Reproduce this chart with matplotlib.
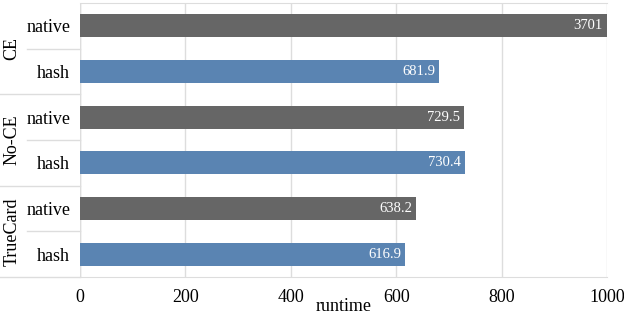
import matplotlib.pyplot as plt
import matplotlib.transforms as mtransforms

groups = ['CE', 'No-CE', 'TrueCard']
methods = ['native', 'hash']
runtime = [3701, 681.9, 729.5, 730.4, 638.2, 616.9]
value_labels = ['3701', '681.9', '729.5', '730.4', '638.2', '616.9']
xticks = [0, 200, 400, 600, 800, 1000]

colors = {'native': '#666666', 'hash': '#5a84b2'}
grid_col = '#dddddd'

plt.rcParams['font.family'] = ['Liberation Serif', 'DejaVu Serif']

fig = plt.figure(figsize=(6.24, 3.17), dpi=100)
ax = fig.add_axes([80 / 624, 1 - 277 / 317, 527 / 624, 274 / 317])

labels = []
cols = []
for g in groups:
    for m in methods:
        labels.append(m)
        cols.append(colors[m])

ypos = list(range(len(runtime)))
ax.barh(ypos, [min(v, 1000) for v in runtime], height=0.5, color=cols, zorder=2)

for y, v, t in zip(ypos, runtime, value_labels):
    ax.text(min(v, 1000) - 8, y, t, color='white', ha='right', va='center',
            fontsize=10.5, zorder=3)

ax.set_xlim(0, 1000)
ax.set_ylim(len(runtime) - 0.5, -0.5)
ax.set_xticks(xticks)
ax.set_xticklabels([str(x) for x in xticks], fontsize=13)
ax.set_yticks(ypos)
ax.set_yticklabels(labels, fontsize=13)
ax.tick_params(axis='both', length=0)
ax.tick_params(axis='y', pad=7)
ax.tick_params(axis='x', pad=9)
ax.grid(axis='x', color=grid_col, linewidth=1, zorder=0)
for s in ['left', 'right']:
    ax.spines[s].set_visible(False)
for s in ['top', 'bottom']:
    ax.spines[s].set_color(grid_col)
ax.axvline(0, color=grid_col, linewidth=1, zorder=0)
ax.set_xlabel('runtime', fontsize=13, labelpad=-6)

trans = mtransforms.blended_transform_factory(ax.transAxes, ax.transData)
left_edge = -80 / 527
for i, g in enumerate(groups):
    y0 = 2 * i - 0.5
    ax.plot([left_edge, 0], [y0 + 2, y0 + 2], transform=trans, color=grid_col,
            linewidth=1, clip_on=False)
    ax.plot([-53 / 527, 0], [y0 + 1, y0 + 1], transform=trans, color=grid_col,
            linewidth=1, clip_on=False)
    ax.text(-68 / 527, 2 * i + 0.5, g, transform=trans, rotation=90,
            ha='center', va='center', fontsize=13)

fig.savefig('out.png', dpi=100)
